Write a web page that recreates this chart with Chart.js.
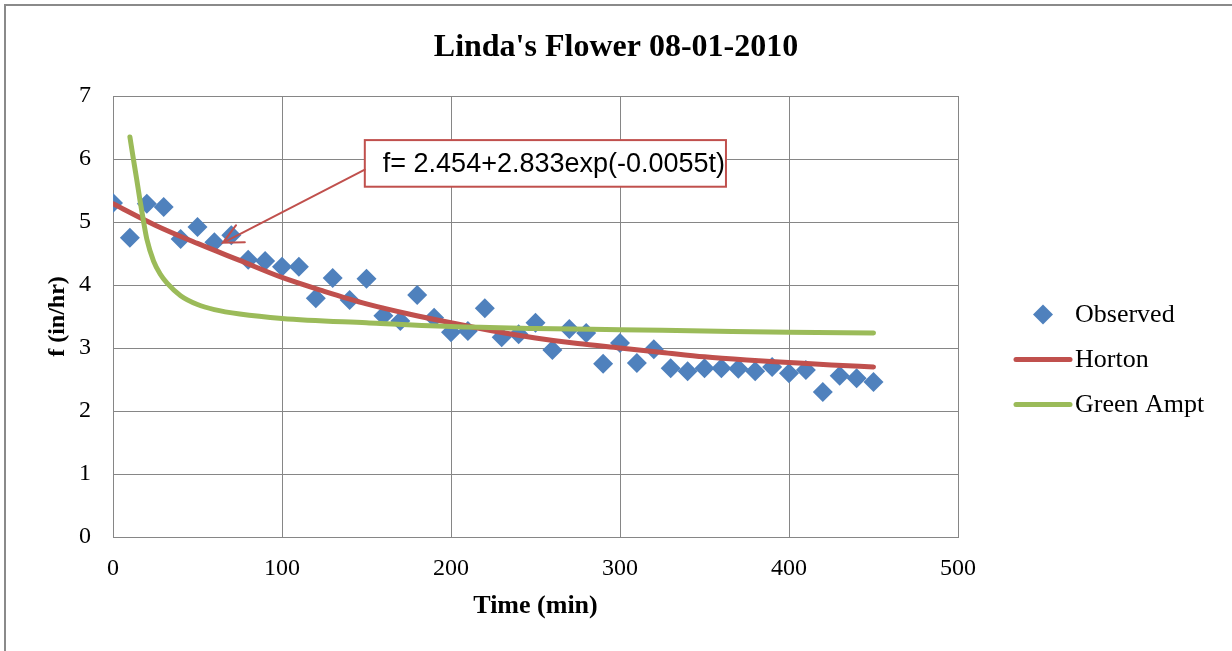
<!DOCTYPE html>
<html>
<head>
<meta charset="utf-8">
<title>Linda's Flower 08-01-2010</title>
<script src="https://cdn.jsdelivr.net/npm/chart.js@4.4.1/dist/chart.umd.min.js"></script>
<style>
   html, body { margin: 0; padding: 0; background: #fff; }
   canvas { display: block; }
</style>
</head>
<body>
<canvas id="chartInfiltration" width="1232" height="651"></canvas>
<script>
// observed infiltration rate
const timeObserved = [0, 10, 20, 30, 40, 50, 60, 70, 80, 90, 100, 110, 120, 130, 140, 150, 160, 170, 180, 190,
   200, 210, 220, 230, 240, 250, 260, 270, 280, 290, 300, 310, 320, 330, 340, 350, 360, 370, 380, 390,
   400, 410, 420, 430, 440, 450];
const fObserved = [5.30, 4.75, 5.29, 5.24, 4.73, 4.92, 4.68, 4.79, 4.40, 4.38, 4.29, 4.29, 3.79, 4.11, 3.76, 4.10, 3.51, 3.43, 3.84, 3.48,
   3.25, 3.27, 3.63, 3.17, 3.22, 3.40, 2.97, 3.30, 3.24, 2.75, 3.08, 2.76, 2.98, 2.68, 2.63, 2.68, 2.68, 2.67, 2.63, 2.70,
   2.60, 2.65, 2.30, 2.56, 2.52, 2.46];

// Horton fitted curve
const timeHorton = [0, 25, 50, 75, 100, 125, 150, 175, 200, 225, 250, 275, 300, 325, 350, 375, 400, 425, 450];
const fHorton = [5.29, 4.95, 4.66, 4.39, 4.12, 3.90, 3.70, 3.54, 3.40, 3.27, 3.16, 3.07, 3.00, 2.93, 2.86, 2.81, 2.77, 2.73, 2.70];

// Green Ampt curve
const timeGreenAmpt = [10, 12, 14, 16, 18, 20, 24, 28, 32, 40, 50, 60, 75, 100, 150, 200, 250, 300, 350, 400, 450];
const fGreenAmpt = [6.35, 6.01, 5.68, 5.34, 5.02, 4.73, 4.38, 4.17, 4.03, 3.83, 3.69, 3.61, 3.54, 3.47, 3.40, 3.34, 3.31, 3.29, 3.27, 3.25, 3.24];

const xTicks = [0, 100, 200, 300, 400, 500];
const yTicks = [0, 1, 2, 3, 4, 5, 6, 7];

// equation call-out, anchored in data units
const equationText = 'f= 2.454+2.833exp(-0.0055t)';
const equationBox = { t1: 149, t2: 362.7, f1: 6.30, f2: 5.56 };
const equationArrow = { tFrom: 149, fFrom: 5.83, tTo: 65, fTo: 4.67 };

const SERIF = "'Liberation Serif', 'Times New Roman', serif";
const GRID = '#868686';

const toPoints = (xs, ys) => xs.map((x, i) => ({ x: x, y: ys[i] }));

const decorPlugin = {
   id: 'decor',
   beforeDraw(chart) {
      const ctx = chart.ctx;
      ctx.save();
      ctx.fillStyle = '#fff';
      ctx.fillRect(0, 0, chart.width, chart.height);
      ctx.restore();
   },
   afterDraw(chart) {
      const { ctx, chartArea, scales: { x, y } } = chart;
      ctx.save();

      // outer frame (left + top only are visible)
      ctx.strokeStyle = '#8a8a8a';
      ctx.lineWidth = 2;
      ctx.beginPath();
      ctx.moveTo(5, chart.height);
      ctx.lineTo(5, 5);
      ctx.lineTo(chart.width, 5);
      ctx.stroke();

      // equation box
      const bx1 = x.getPixelForValue(equationBox.t1);
      const bx2 = x.getPixelForValue(equationBox.t2);
      const by1 = y.getPixelForValue(equationBox.f1);
      const by2 = y.getPixelForValue(equationBox.f2);
      ctx.fillStyle = '#fff';
      ctx.fillRect(bx1, by1, bx2 - bx1, by2 - by1);
      ctx.strokeStyle = '#C0504D';
      ctx.lineWidth = 2;
      ctx.strokeRect(bx1, by1, bx2 - bx1, by2 - by1);
      ctx.fillStyle = '#000';
      ctx.font = "27px 'Liberation Sans', Arial, sans-serif";
      ctx.textBaseline = 'middle';
      ctx.textAlign = 'left';
      ctx.fillText(equationText, bx1 + 18, (by1 + by2) / 2 + 1);

      // arrow
      const ax1 = x.getPixelForValue(equationArrow.tFrom);
      const ay1 = y.getPixelForValue(equationArrow.fFrom);
      const ax2 = x.getPixelForValue(equationArrow.tTo);
      const ay2 = y.getPixelForValue(equationArrow.fTo);
      const ang = Math.atan2(ay1 - ay2, ax1 - ax2);
      const wing = 22, spread = 0.45;
      ctx.lineWidth = 2;
      ctx.lineCap = 'round';
      ctx.beginPath();
      ctx.moveTo(ax1, ay1);
      ctx.lineTo(ax2, ay2);
      ctx.moveTo(ax2 + wing * Math.cos(ang - spread), ay2 + wing * Math.sin(ang - spread));
      ctx.lineTo(ax2, ay2);
      ctx.lineTo(ax2 + wing * Math.cos(ang + spread), ay2 + wing * Math.sin(ang + spread));
      ctx.stroke();

      // legend
      const lx = chartArea.right;
      const midY = (chartArea.top + chartArea.bottom) / 2;
      ctx.font = '26px ' + SERIF;
      ctx.fillStyle = '#000';
      chart.data.datasets.forEach((ds, i) => {
         const ly = midY - 2 + i * 45;
         if (ds.showLine) {
            ctx.strokeStyle = ds.borderColor;
            ctx.lineWidth = ds.borderWidth;
            ctx.lineCap = 'round';
            ctx.beginPath();
            ctx.moveTo(lx + 58, ly);
            ctx.lineTo(lx + 112, ly);
            ctx.stroke();
         } else {
            ctx.fillStyle = ds.backgroundColor;
            ctx.beginPath();
            ctx.moveTo(lx + 85 - 10, ly);
            ctx.lineTo(lx + 85, ly - 10);
            ctx.lineTo(lx + 85 + 10, ly);
            ctx.lineTo(lx + 85, ly + 10);
            ctx.closePath();
            ctx.fill();
            ctx.fillStyle = '#000';
         }
         ctx.fillText(ds.label, lx + 117, ly + 1);
      });
      ctx.restore();
   }
};

const ctx = document.getElementById('chartInfiltration').getContext('2d');
const chartInfiltration = new Chart(ctx, {
   type: 'scatter',
   data: {
      datasets: [{
         label: 'Observed',
         data: toPoints(timeObserved, fObserved),
         pointStyle: 'rectRot',
         pointRadius: 10,
         pointHoverRadius: 10,
         backgroundColor: '#4F81BD',
         borderColor: '#4F81BD',
         borderWidth: 0,
         showLine: false,
         order: 3,
      }, {
         label: 'Horton',
         data: toPoints(timeHorton, fHorton),
         showLine: true,
         borderColor: '#C0504D',
         backgroundColor: '#C0504D',
         borderWidth: 5,
         pointRadius: 0,
         cubicInterpolationMode: 'monotone',
         borderCapStyle: 'round',
         order: 2,
      }, {
         label: 'Green Ampt',
         data: toPoints(timeGreenAmpt, fGreenAmpt),
         showLine: true,
         borderColor: '#9BBB59',
         backgroundColor: '#9BBB59',
         borderWidth: 5,
         pointRadius: 0,
         cubicInterpolationMode: 'monotone',
         borderCapStyle: 'round',
         order: 1,
      }]
   },
   options: {
      responsive: false,
      animation: false,
      devicePixelRatio: 1,
      layout: { padding: 0 },
      scales: {
         x: {
            type: 'linear',
            min: 0,
            max: 500,
            afterBuildTicks: s => { s.ticks = xTicks.map(v => ({ value: v })); },
            afterFit: s => { s.height = 114; },
            grid: { color: GRID, lineWidth: 1, drawTicks: false },
            border: { color: GRID, width: 1 },
            ticks: { color: '#000', padding: 17, maxRotation: 0, font: { family: SERIF, size: 24 } },
            title: {
               display: true,
               text: 'Time (min)',
               color: '#000',
               padding: { top: 0, bottom: 29 },
               font: { family: SERIF, size: 26, weight: 'bold', lineHeight: 1.2 },
            },
         },
         y: {
            type: 'linear',
            min: 0,
            max: 7,
            afterBuildTicks: s => { s.ticks = yTicks.map(v => ({ value: v })); },
            afterFit: s => { s.width = 113; },
            grid: { color: GRID, lineWidth: 1, drawTicks: false },
            border: { color: GRID, width: 1 },
            ticks: { color: '#000', padding: 22, font: { family: SERIF, size: 24 } },
            title: {
               display: true,
               text: 'f (in/hr)',
               color: '#000',
               padding: { top: 43, bottom: 0 },
               font: { family: SERIF, size: 24, weight: 'bold', lineHeight: 1.2 },
            },
         },
         // empty axis that only reserves the room where the legend goes
         legendSpace: {
            type: 'linear',
            position: 'right',
            display: true,
            afterFit: s => { s.width = 274; },
            grid: { display: false, drawTicks: false },
            border: { display: false },
            ticks: { display: false },
         },
      },
      plugins: {
         legend: { display: false },
         tooltip: { enabled: false },
         title: {
            display: true,
            text: "Linda's Flower 08-01-2010",
            color: '#000',
            padding: { top: 30, bottom: 30 },
            font: { family: SERIF, size: 32, weight: 'bold', lineHeight: 1.125 },
         },
      },
   },
   plugins: [decorPlugin]
});
</script>
</body>
</html>
